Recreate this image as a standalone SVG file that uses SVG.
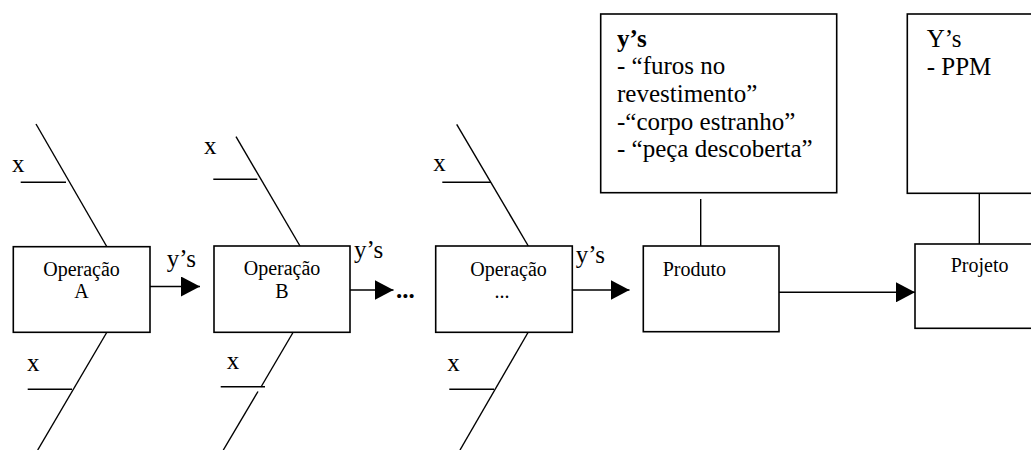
<svg xmlns="http://www.w3.org/2000/svg" width="1031" height="450" viewBox="0 0 1031 450">
  <style>
    .box { fill: #fff; stroke: #000; stroke-width: 1.6; }
    .ln { fill: none; stroke: #000; stroke-width: 1.4; }
    .big { font-family: "Liberation Serif", "Times New Roman", serif; font-size: 25px; fill: #000; }
    .small { font-family: "Liberation Serif", "Times New Roman", serif; font-size: 20px; fill: #000; }
    .mid { text-anchor: middle; }
  </style>
  <defs>
    <marker id="head" viewBox="0 0 19 20" refX="19" refY="10" markerWidth="19" markerHeight="20" markerUnits="userSpaceOnUse" orient="auto">
      <path d="M0,0 L19,10 L0,20 Z" fill="#000"/>
    </marker>
  </defs>

  <rect width="1031" height="450" fill="#fff"/>

  <!-- fishbone bones and connectors -->
  <g id="connectors">
    <!-- Operação A bones -->
    <line class="ln" x1="36" y1="124" x2="107" y2="247"/>
    <line class="ln" x1="20.7" y1="182.3" x2="66" y2="182.3"/>
    <line class="ln" x1="107" y1="332" x2="37.7" y2="450"/>
    <line class="ln" x1="27.7" y1="389.3" x2="72" y2="389.3"/>
    <!-- Operação B bones -->
    <line class="ln" x1="236" y1="136.7" x2="300" y2="246"/>
    <line class="ln" x1="213.3" y1="179.3" x2="257.3" y2="179.3"/>
    <line class="ln" x1="293.3" y1="332" x2="261" y2="387"/>
    <line class="ln" x1="258" y1="391.5" x2="223.3" y2="450"/>
    <line class="ln" x1="220.7" y1="386.7" x2="265" y2="386.7"/>
    <!-- Operação ... bones -->
    <line class="ln" x1="456.7" y1="124.3" x2="528.3" y2="246"/>
    <line class="ln" x1="442.3" y1="182.3" x2="491" y2="182.3"/>
    <line class="ln" x1="528.3" y1="332" x2="460" y2="450"/>
    <line class="ln" x1="449.3" y1="389.3" x2="494" y2="389.3"/>
    <!-- flow arrows -->
    <line class="ln" x1="150" y1="286.5" x2="200" y2="286.5" marker-end="url(#head)"/>
    <line class="ln" x1="350" y1="290" x2="393.5" y2="290" marker-end="url(#head)"/>
    <line class="ln" x1="572" y1="290" x2="629.5" y2="290" marker-end="url(#head)"/>
    <line class="ln" x1="779" y1="292.3" x2="915" y2="292.3" marker-end="url(#head)"/>
    <!-- links to the y's boxes -->
    <line class="ln" x1="700.7" y1="199" x2="700.7" y2="246"/>
    <line class="ln" x1="979.3" y1="193" x2="979.3" y2="244"/>
  </g>

  <!-- labels on bones and arrows -->
  <g id="labels">
    <text class="big" x="12" y="171.7">x</text>
    <text class="big" x="27" y="371">x</text>
    <text class="big" x="204" y="154.3">x</text>
    <text class="big" x="226.7" y="369.3">x</text>
    <text class="big" x="433.3" y="171">x</text>
    <text class="big" x="447.3" y="371">x</text>
    <text class="big" x="166.7" y="267">y’s</text>
    <text class="big" x="354" y="258.3">y’s</text>
    <text class="big" x="575.7" y="263.3">y’s</text>
    <text class="big" x="396" y="297.5" font-weight="bold" font-size="22px">...</text>
  </g>

  <g id="op-a">
    <rect class="box" x="13.3" y="246.7" width="136.7" height="85.6"/>
    <text class="small mid" x="81.5" y="276">Operação</text>
    <text class="small mid" x="81.5" y="298.3">A</text>
  </g>

  <g id="op-b">
    <rect class="box" x="214" y="246" width="136" height="86.3"/>
    <text class="small mid" x="282" y="275">Operação</text>
    <text class="small mid" x="282" y="298">B</text>
  </g>

  <g id="op-n">
    <rect class="box" x="435.7" y="246" width="136.6" height="86.3"/>
    <text class="small mid" x="508.5" y="276">Operação</text>
    <text class="small mid" x="502" y="298">...</text>
  </g>

  <g id="produto">
    <rect class="box" x="643.3" y="246" width="135.7" height="85.7"/>
    <text class="small" x="662.7" y="276">Produto</text>
  </g>

  <g id="produto-ys">
    <rect class="box" x="600.7" y="14" width="236" height="178.7"/>
    <text class="big" x="617" y="46.7" font-weight="bold">y’s</text>
    <text class="big" x="617" y="74.3">- “furos no</text>
    <text class="big" x="617" y="102">revestimento”</text>
    <text class="big" x="617" y="129.6">-“corpo estranho”</text>
    <text class="big" x="617" y="157.2">- “peça descoberta”</text>
  </g>

  <g id="projeto">
    <rect class="box" x="915" y="244" width="130" height="84.3"/>
    <text class="small" x="950.7" y="271.7">Projeto</text>
  </g>

  <g id="projeto-ys">
    <rect class="box" x="907.3" y="14" width="140" height="179.3"/>
    <text class="big" x="926.7" y="46.7">Y’s</text>
    <text class="big" x="926.7" y="75">- PPM</text>
  </g>
</svg>
